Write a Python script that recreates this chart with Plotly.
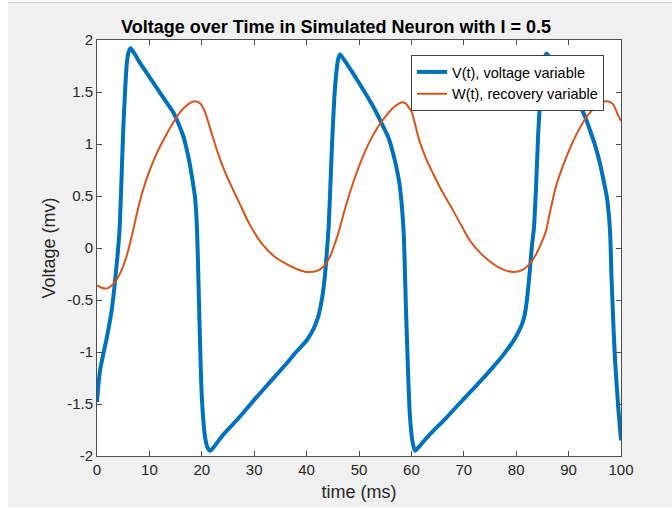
import plotly.graph_objects as go

# ---- data ----
t_v = [0, 0.3, 0.6, 1.2, 1.8, 2.8, 3.4, 3.9, 4.3, 4.6, 5.0, 5.4, 5.7, 6.0, 6.4, 7.0, 8.2, 9.8,
       11.4, 13.0, 14.6, 15.6, 16.5, 17.2, 17.7, 18.2, 18.7, 19.1, 19.5, 20.0, 20.6, 21.1, 21.6,
       22.2, 24.0, 27.3, 30.0, 33.0, 36.0, 38.0, 40.0, 41.3, 42.1, 42.6, 43.2, 43.7, 44.2, 44.5,
       44.9, 45.3, 45.7, 46.1, 46.4, 47.0, 49.6, 52.7, 54.6, 55.7, 56.5, 57.2, 57.8, 58.5, 59.0,
       59.7, 60.2, 60.7, 61.3, 63.0, 66.7, 70.0, 73.0, 75.5, 77.5, 79.5, 80.7, 81.5, 82.0, 82.6,
       83.0, 83.4, 83.8, 84.2, 84.6, 85.0, 85.4, 85.8, 86.4, 88.5, 91.5, 93.0, 94.1, 95.1, 96.0,
       96.8, 97.3, 97.9, 98.2, 98.6, 98.9, 99.5, 100]
v = [-1.48, -1.30, -1.17, -1.02, -0.88, -0.60, -0.34, -0.08, 0.17, 0.55, 1.13, 1.55, 1.78, 1.88,
     1.92, 1.88, 1.78, 1.66, 1.54, 1.42, 1.30, 1.19, 1.07, 0.93, 0.81, 0.66, 0.49, 0.17, -0.60,
     -1.43, -1.81, -1.92, -1.95, -1.92, -1.80, -1.62, -1.46, -1.29, -1.12, -1.00, -0.89, -0.78,
     -0.68, -0.58, -0.40, -0.15, 0.20, 0.55, 1.05, 1.45, 1.70, 1.83, 1.86, 1.82, 1.62, 1.36, 1.17,
     1.05, 0.91, 0.76, 0.59, 0.17, -0.65, -1.60, -1.86, -1.95, -1.92, -1.82, -1.63, -1.45, -1.29,
     -1.15, -1.03, -0.89, -0.78, -0.67, -0.52, -0.22, 0.02, 0.20, 0.60, 1.10, 1.45, 1.70, 1.83,
     1.87, 1.83, 1.65, 1.42, 1.28, 1.13, 0.98, 0.81, 0.62, 0.49, 0.17, -0.30, -0.80, -1.11, -1.55,
     -1.85]

t_w = [0, 0.8, 1.5, 2.3, 3.0, 3.8, 4.8, 5.7, 6.8, 7.8, 8.8, 10.0, 11.4, 13.0, 14.6, 15.9, 17.1,
       18.0, 18.7, 19.4, 20.0, 20.6, 21.3, 22.2, 23.1, 24.1, 25.6, 27.3, 29.2, 31.5, 33.8, 36.0,
       38.0, 40.0, 42.0, 43.2, 44.3, 45.1, 46.1, 47.4, 48.9, 50.5, 52.1, 53.7, 55.3, 56.8, 58.1,
       58.9, 59.5, 60.1, 60.8, 61.6, 62.8, 64.2, 65.8, 67.4, 69.5, 71.2, 73.0, 75.0, 77.2, 79.4,
       81.2, 82.6, 83.8, 84.9, 85.6, 86.6, 87.7, 89.3, 90.9, 92.2, 93.4, 94.4, 95.4, 96.4, 97.3,
       98.0, 98.5, 99.0, 99.5, 100]
w = [-0.36, -0.38, -0.39, -0.38, -0.35, -0.30, -0.20, -0.07, 0.15, 0.37, 0.56, 0.74, 0.91, 1.07,
     1.21, 1.31, 1.37, 1.40, 1.41, 1.40, 1.37, 1.31, 1.20, 1.05, 0.91, 0.77, 0.60, 0.42, 0.22,
     0.04, -0.08, -0.15, -0.20, -0.23, -0.22, -0.18, -0.10, 0.00, 0.15, 0.39, 0.63, 0.85, 1.03,
     1.17, 1.28, 1.36, 1.40, 1.39, 1.35, 1.30, 1.17, 1.02, 0.86, 0.71, 0.55, 0.41, 0.22, 0.07,
     -0.04, -0.13, -0.20, -0.23, -0.21, -0.15, -0.06, 0.06, 0.15, 0.38, 0.61, 0.84, 1.03, 1.16,
     1.26, 1.32, 1.37, 1.40, 1.41, 1.40, 1.38, 1.33, 1.27, 1.22]

x_ticks = [0, 10, 20, 30, 40, 50, 60, 70, 80, 90, 100]
x_tick_labels = ["0", "10", "20", "30", "40", "50", "60", "70", "80", "90", "100"]
y_ticks = [-2, -1.5, -1, -0.5, 0, 0.5, 1, 1.5, 2]
y_tick_labels = ["-2", "-1.5", "-1", "-0.5", "0", "0.5", "1", "1.5", "2"]

series_names = ["V(t), voltage variable", "W(t), recovery variable"]
title_text = "Voltage over Time in Simulated Neuron with I = 0.5"
x_title = "time (ms)"
y_title = "Voltage (mv)"

FONT = "Liberation Sans, Arial, Helvetica, sans-serif"
AX = "#262626"

fig = go.Figure()
fig.add_trace(go.Scatter(x=t_v, y=v, mode="lines", name=series_names[0],
                         line=dict(color="#0072BD", width=4, shape="spline", smoothing=0.6)))
fig.add_trace(go.Scatter(x=t_w, y=w, mode="lines", name=series_names[1],
                         line=dict(color="#D95319", width=2, shape="spline", smoothing=1.0)))

W, H = 672, 510
L, R, T, B = 97, 51, 40, 54
pw, ph = W - L - R, H - T - B


def px(xp):
    return (xp - L) / pw


def py(yp):
    return (H - B - yp) / ph


axis_common = dict(showline=True, linecolor="#4d4d4d", linewidth=1, mirror="ticks",
                   ticks="inside", ticklen=5, tickcolor="#4d4d4d", showgrid=False,
                   zeroline=False, tickfont=dict(family=FONT, size=15, color=AX))

fig.update_layout(
    width=W, height=H,
    margin=dict(l=L, r=R, t=T, b=B, pad=0),
    paper_bgcolor="#f0f0f0",
    plot_bgcolor="white",
    title=dict(text="<b>" + title_text + "</b>", x=px(359), xanchor="center",
               y=1 - 27 / H, yanchor="middle", yref="container",
               font=dict(family=FONT, size=18, color="black")),
    xaxis=dict(range=[0, 100], tickvals=x_ticks, ticktext=x_tick_labels,
               title=dict(text=x_title, font=dict(family=FONT, size=18, color=AX), standoff=8),
               **axis_common),
    yaxis=dict(range=[-2, 2], tickvals=y_ticks, ticktext=y_tick_labels,
               title=dict(text=y_title, font=dict(family=FONT, size=18, color=AX), standoff=6),
               **axis_common),
    showlegend=True,
    legend=dict(x=px(604), xanchor="right", y=py(55), yanchor="top",
                bgcolor="white", bordercolor="#404040", borderwidth=1,
                font=dict(family=FONT, size=14.5, color="black"),
                tracegroupgap=0, itemwidth=30),
    shapes=[
        dict(type="rect", xref="paper", yref="paper", x0=px(0), x1=px(8), y0=py(H), y1=py(0),
             fillcolor="white", line=dict(width=0), layer="below"),
        dict(type="rect", xref="paper", yref="paper", x0=px(0), x1=px(W), y0=py(3), y1=py(0),
             fillcolor="white", line=dict(width=0), layer="below"),
        dict(type="rect", xref="paper", yref="paper", x0=px(0), x1=px(W), y0=py(H), y1=py(507),
             fillcolor="white", line=dict(width=0), layer="below"),
        dict(type="line", xref="paper", yref="paper", x0=px(8), x1=px(W), y0=py(2.5), y1=py(2.5),
             line=dict(color="#d6d6d6", width=1), layer="below"),
    ],
)

fig.write_html("out.html")
